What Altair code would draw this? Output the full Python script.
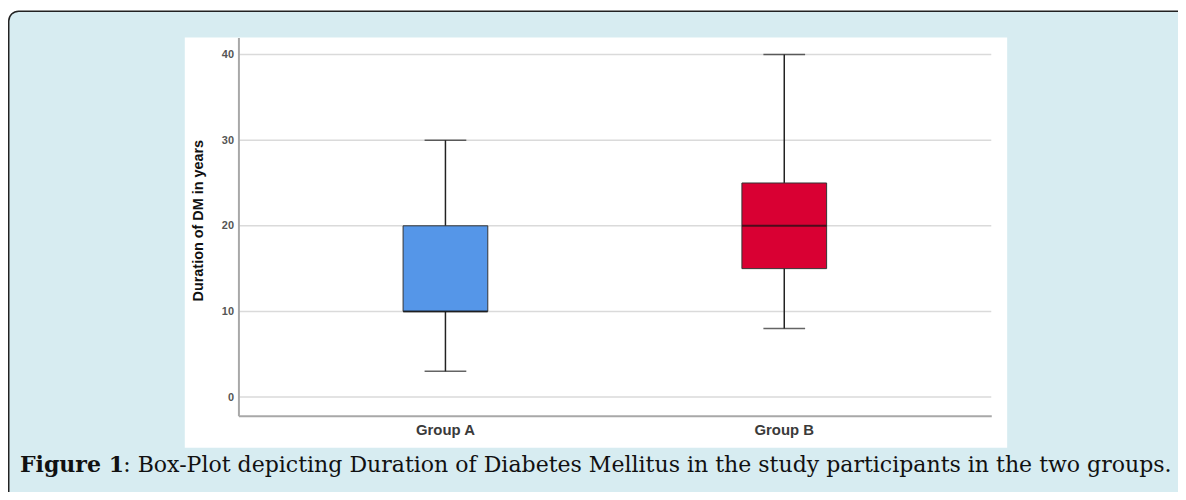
import altair as alt
import pandas as pd

# ---- data ----
groups = ["Group A", "Group B"]
mins = [3, 8]
q1s = [10, 15]
medians = [10, 20]
q3s = [20, 25]
maxs = [30, 40]
box_colors = ["#5596E8", "#D90033"]
y_ticks = [0, 10, 20, 30, 40]
y_title = "Duration of DM in years"
caption_bold = "Figure 1"
caption_rest = ": Box-Plot depicting Duration of Diabetes Mellitus in the study participants in the two groups."

box_df = pd.DataFrame({"group": groups, "lo": mins, "q1": q1s, "med": medians,
                       "q3": q3s, "hi": maxs})
grid_df = pd.DataFrame({"v": y_ticks})
one = alt.Data(values=[{"a": 1}])

W, H = 758, 381

x_scale = alt.Scale(domain=groups, paddingInner=0.75, paddingOuter=0.486)
y_scale = alt.Scale(domain=[-2.2, 42], nice=False, zero=False)

x_axis = alt.Axis(title=None, labelAngle=0, ticks=False, grid=False,
                  domainColor="#a8a8a8", domainWidth=2,
                  labelColor="#3a3a3a", labelFont="Liberation Sans",
                  labelFontSize=15, labelFontWeight="bold", labelPadding=7, zindex=1)
y_axis = alt.Axis(values=y_ticks, grid=False, ticks=False,
                  domainColor="#a8a8a8", domainWidth=2,
                  labelColor="#555555", labelFont="Liberation Sans",
                  labelFontWeight="bold", labelFontSize=11, labelPadding=5,
                  title=y_title, titleFont="Liberation Sans", titleFontSize=14.5,
                  titleFontWeight="bold", titleColor="#111111",
                  titleX=-33, titleY=184, zindex=1)

X = alt.X("group:N", scale=x_scale, sort=groups, axis=x_axis)

# decorative backgrounds
outer = alt.Chart(one).mark_rect(cornerRadius=10, fill="#D7ECF1", stroke="#222222",
                                 strokeWidth=1.5).encode(
    x=alt.value(-231.25), x2=alt.value(1000), y=alt.value(-26.5), y2=alt.value(520))
panel = alt.Chart(one).mark_rect(fill="white").encode(
    x=alt.value(-54), x2=alt.value(774), y=alt.value(0), y2=alt.value(413))

grid = alt.Chart(grid_df).mark_rule(color="#DADADA", strokeWidth=1.5).encode(
    y=alt.Y("v:Q", scale=y_scale, axis=y_axis),
    x=alt.value(0), x2=alt.value(W))

whisker = alt.Chart(box_df).mark_rule(color="#222222", strokeWidth=1.5).encode(
    x=X, y=alt.Y("lo:Q", scale=y_scale, axis=y_axis), y2="hi:Q")

box = alt.Chart(box_df).mark_bar(stroke="#333333", strokeWidth=1).encode(
    x=X, y=alt.Y("q1:Q", scale=y_scale, axis=y_axis), y2="q3:Q",
    color=alt.Color("group:N", scale=alt.Scale(domain=groups, range=box_colors),
                    legend=None))

median = alt.Chart(box_df).mark_tick(color="#111111", size=85, thickness=2,
                                     orient="horizontal").encode(
    x=X, y=alt.Y("med:Q", scale=y_scale, axis=y_axis))
cap_lo = alt.Chart(box_df).mark_tick(color="#222222", size=42, thickness=1.5,
                                     orient="horizontal").encode(
    x=X, y=alt.Y("lo:Q", scale=y_scale, axis=y_axis))
cap_hi = alt.Chart(box_df).mark_tick(color="#222222", size=42, thickness=1.5,
                                     orient="horizontal").encode(
    x=X, y=alt.Y("hi:Q", scale=y_scale, axis=y_axis))

cap1 = alt.Chart(one).mark_text(text=caption_bold, font="DejaVu Serif", fontSize=22.2,
                                fontWeight="bold", align="left", baseline="alphabetic",
                                color="#111111").encode(
    x=alt.value(-220), y=alt.value(438))
cap2 = alt.Chart(one).mark_text(text=caption_rest, font="DejaVu Serif", fontSize=22.2,
                                align="left", baseline="alphabetic",
                                color="#111111").encode(
    x=alt.value(-116), y=alt.value(438))

chart = alt.layer(outer, panel, grid, whisker, box, median, cap_lo, cap_hi, cap1, cap2).properties(
    width=W, height=H,
    autosize=alt.AutoSizeParams(type="none"),
    padding={"left": 232, "top": 28, "right": 188, "bottom": 75},
    background="white",
).configure_view(stroke=None)

chart.save("out.html", embed_options={"renderer": "svg", "actions": False})
